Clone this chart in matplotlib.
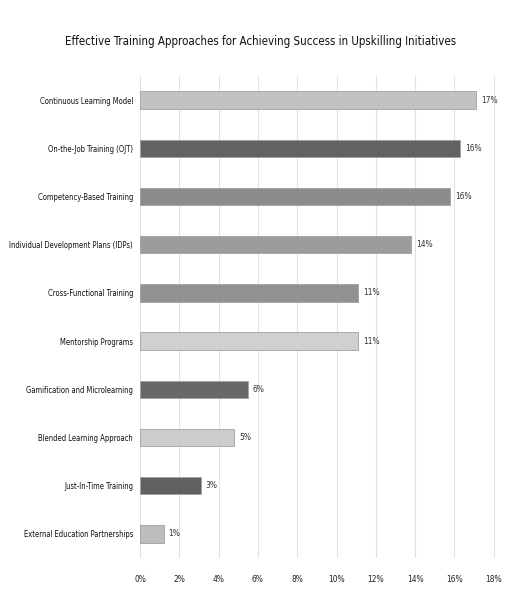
import matplotlib
matplotlib.use('Agg')
import matplotlib.pyplot as plt

# Daten (von oben nach unten)
approaches = [
    'Continuous Learning Model',
    'On-the-Job Training (OJT)',
    'Competency-Based Training',
    'Individual Development Plans (IDPs)',
    'Cross-Functional Training',
    'Mentorship Programs',
    'Gamification and Microlearning',
    'Blended Learning Approach',
    'Just-In-Time Training',
    'External Education Partnerships',
]
shares = [17.1, 16.3, 15.8, 13.8, 11.1, 11.1, 5.5, 4.8, 3.1, 1.2]
bar_labels = ['17%', '16%', '16%', '14%', '11%', '11%', '6%', '5%', '3%', '1%']
bar_colors = ['#c2c2c2', '#626262', '#8c8c8c', '#9c9c9c', '#929292',
              '#d0d0d0', '#686868', '#cdcdcd', '#606060', '#bdbdbd']
x_ticks = [0, 2, 4, 6, 8, 10, 12, 14, 16, 18]

plt.rcParams['font.family'] = ['DejaVu Sans']
plt.rcParams['font.stretch'] = 'condensed'

fig = plt.figure(figsize=(5.1, 5.97), dpi=100)
ax = fig.add_axes([0.2745, 0.0653, 0.709, 0.8074])

y = list(range(len(approaches)))
ax.barh(y, shares, height=0.36, color=bar_colors, edgecolor='#a0a0a0',
        linewidth=0.6, zorder=3)

for yi, val, lab in zip(y, shares, bar_labels):
    ax.text(val + 0.25, yi, lab, va='center', ha='left', fontsize=6, color='#333333')

ax.set_yticks(y)
ax.set_yticklabels(approaches, fontsize=5.5, color='#111111')
ax.set_ylim(len(approaches) - 0.5, -0.5)

ax.set_xlim(0, 18.4)
ax.set_xticks(x_ticks)
ax.set_xticklabels([f'{t}%' for t in x_ticks], fontsize=6, color='#222222')
ax.grid(axis='x', color='#e2e2e2', linewidth=0.8, zorder=0)
ax.tick_params(axis='both', length=0)
ax.tick_params(axis='x', pad=12)
ax.tick_params(axis='y', pad=5)
for s in ax.spines.values():
    s.set_visible(False)

fig.text(0.51, 0.93, 'Effective Training Approaches for Achieving Success in Upskilling Initiatives',
         ha='center', va='center', fontsize=8.3, color='#111111')

fig.savefig('out.png', dpi=100)
